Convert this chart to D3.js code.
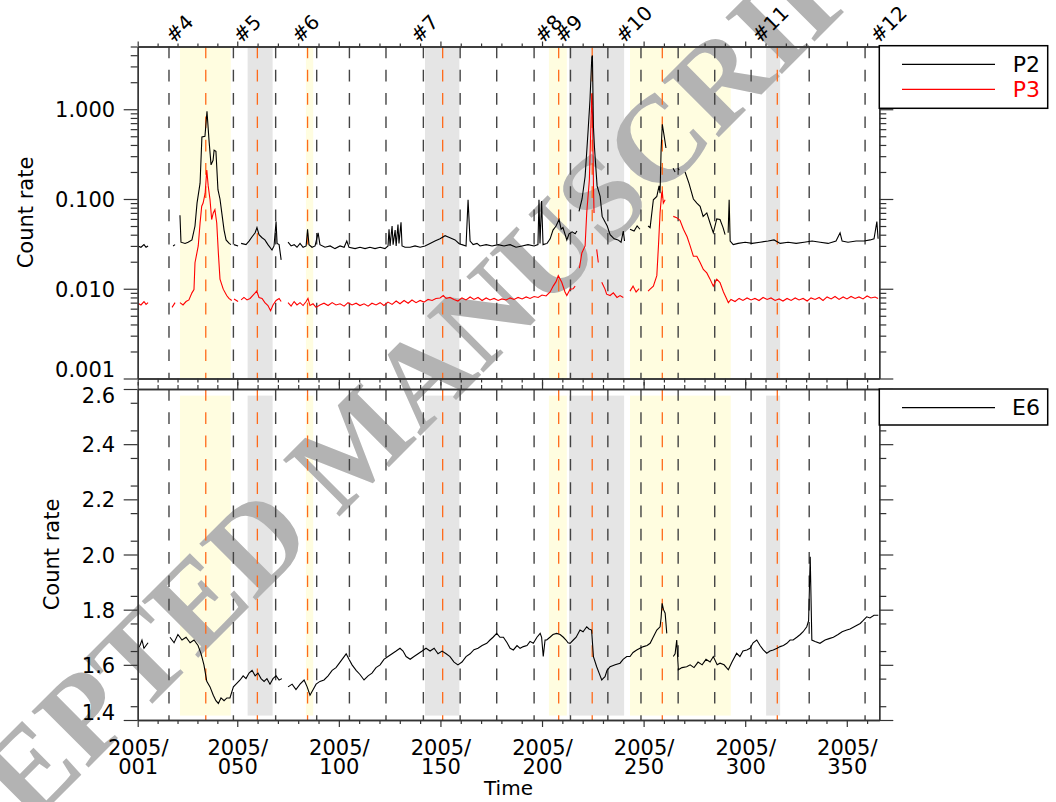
<!DOCTYPE html>
<html><head><meta charset="utf-8">
<script src="https://cdn.jsdelivr.net/npm/d3@7"></script>
<style>
body{margin:0;background:#fff}
svg{display:block}
text{font-family:"DejaVu Sans","Liberation Sans",Arial,sans-serif}
</style>
</head><body><svg id="c" width="1056" height="802"></svg>
<script>
// ---------------- DATA ----------------
const xMajorDays = [1, 50, 100, 150, 200, 250, 300, 350];
const xMajorLabels = ["001", "050", "100", "150", "200", "250", "300", "350"];
const yearLabel = "2005/";
const topMajor = [0.001, 0.01, 0.1, 1];
const topMajorLabels = ["0.001", "0.010", "0.100", "1.000"];
const botMajor = [1.4, 1.6, 1.8, 2.0, 2.2, 2.4, 2.6];
const botMajorLabels = ["1.4", "1.6", "1.8", "2.0", "2.2", "2.4", "2.6"];

const eventBlack = [16.4, 48.1, 68.9, 89.1, 105.2, 123.2, 141.6, 159.7, 177.7, 196.1, 214.0, 232.4, 248.7, 267.0, 285.0, 302.9, 331.5, 359.0];
const eventOrange = [34.5, 59.9, 84.6, 151.1, 208.2, 224.7, 259.2, 315.8];

const regionLabels = ["#4", "#5", "#6", "#7", "#8", "#9", "#10", "#11", "#12"];
const regionStart = [21.8, 55.1, 83.8, 142.4, 203.4, 213.3, 243.3, 310.3, 368.5];
const regionEnd   = [46.8, 67.4, 87.4, 159.3, 212.2, 240.4, 292.9, 317.2, 368.5];
const regionKind  = ["y", "g", "y", "g", "y", "g", "y", "g", "g"];
const botShadeRange = [1.416, 2.576];

// P2 count rate (day of 2005, value); null = data gap
const p2 = [[1.1,0.030],[2.6,0.029],[4.1,0.031],[5.1,0.029],[6.1,0.030],[6.5,null],
[18.4,0.030],[19.4,0.031],[19.8,null],
[21.8,0.066],[22.3,0.033],[24.3,0.032],[25.8,0.033],[27.7,0.035],[29.2,0.05],[30.2,0.09],[31.7,0.15],[32.6,0.49],[34.1,0.50],[35.1,0.95],[36.1,0.45],[37.1,0.24],[38.1,0.27],[38.6,0.35],[39.5,0.34],[40.5,0.127],[41.5,0.10],[42.5,0.067],[43.5,0.045],[44.5,0.035],[46.0,0.032],[46.9,0.031],[47.5,null],
[48.4,0.031],[50.4,0.030],[51.0,null],
[51.9,0.032],[54.3,0.031],[55.8,0.034],[57.3,0.038],[58.8,0.042],[59.7,0.048],[60.7,0.040],[62.2,0.037],[63.6,0.035],[65.1,0.031],[67.1,0.027],[68.1,0.030],[69.1,0.056],[69.6,0.032],[70.6,0.031],[71.6,0.021],[72.5,null],
[75.0,0.033],[76.5,0.030],[78.0,0.031],[79.4,0.029],[80.9,0.032],[82.4,0.029],[83.9,0.030],[84.6,0.046],[85.3,0.031],[86.8,0.029],[88.3,0.030],[89.8,0.042],[90.7,0.031],[93.2,0.029],[95.7,0.030],[98.1,0.028],[100.6,0.030],[102.6,0.029],[103.9,0.034],[105.0,0.029],[108.0,0.028],[110.4,0.029],[112.9,0.028],[115.3,0.029],[117.8,0.028],[120.3,0.029],[122.7,0.028],[124.2,0.030],[124.7,0.046],[125.2,0.030],[126.2,0.050],[126.7,0.031],[127.7,0.045],[128.2,0.030],[129.1,0.052],[129.6,0.032],[130.6,0.055],[131.1,0.030],[132.6,0.029],[135.1,0.029],[137.5,0.030],[140.0,0.029],[142.4,0.030],[144.9,0.032],[147.3,0.034],[149.8,0.036],[152.3,0.039],[154.7,0.037],[157.2,0.035],[159.1,0.032],[160.6,0.031],[162.6,0.030],[163.6,0.098],[164.6,0.034],[166.1,0.031],[168.0,0.032],[169.5,0.030],[172.5,0.031],[175.4,0.030],[178.4,0.031],[181.3,0.030],[184.3,0.031],[187.2,0.029],[190.2,0.030],[193.1,0.031],[196.1,0.030],[198.0,0.031],[198.5,0.098],[199.0,0.032],[199.8,0.095],[200.5,0.031],[202.5,0.032],[204.0,0.036],[205.4,0.045],[206.9,0.050],[208.4,0.059],[209.4,0.046],[210.3,0.048],[212.2,0.035],[213.3,0.041],[214.8,0.043],[216.3,0.041],[217.2,0.044],[217.7,null],
[218.2,0.073],[219.7,0.10],[221.2,0.178],[222.6,0.54],[223.6,1.26],[224.5,3.8],[224.8,3.97],[225.3,0.64],[225.8,0.38],[227.1,0.14],[228.6,0.107],[229.6,0.064],[231.1,0.055],[232.1,0.050],[233.5,0.040],[235.5,0.036],[237.4,0.035],[238.9,0.033],[240.0,0.044],[240.6,0.034],[241.5,null],
[243.3,0.046],[245.3,0.044],[246.8,0.050],[248.2,0.046],[249.5,null],
[252.2,0.050],[253.2,0.048],[254.8,0.098],[256.5,0.107],[257.6,0.14],[258.1,0.116],[258.6,0.35],[259.2,0.68],[260.2,0.49],[261.0,0.37],[262.0,null],
[264.5,0.22],[265.5,0.20],[266.0,null],
[266.9,0.22],[267.5,0.21],[268.0,null],
[270.4,0.20],[272.3,0.15],[274.5,0.10],[276.2,0.09],[277.8,0.083],[279.3,0.064],[281.1,0.07],[282.7,0.054],[284.3,0.042],[286.0,0.060],[287.6,0.059],[289.1,0.048],[290.1,0.040],[290.8,null],
[291.6,0.042],[292.1,0.098],[292.6,0.034],[294.1,0.031],[296.5,0.032],[300.0,0.033],[303.4,0.032],[307.3,0.033],[311.3,0.034],[314.2,0.035],[317.2,0.032],[321.1,0.033],[325.1,0.032],[329.0,0.033],[332.9,0.034],[336.9,0.033],[340.8,0.032],[344.7,0.034],[346.7,0.042],[347.7,0.034],[350.6,0.033],[354.6,0.034],[358.5,0.034],[361.5,0.035],[363.4,0.036],[364.8,0.056],[365.4,0.036]];

// P3 count rate
const p3 = [[1.1,0.0069],[2.6,0.0066],[4.1,0.0072],[5.1,0.0067],[6.1,0.0070],[6.5,null],
[17.9,0.0062],[19.4,0.0070],[19.8,null],
[21.8,0.0070],[23.3,0.0066],[24.8,0.0072],[26.2,0.0075],[27.7,0.0090],[28.7,0.0098],[29.2,0.0195],[30.8,0.030],[31.7,0.054],[32.5,0.083],[33.2,0.09],[34.2,0.116],[35.0,0.21],[35.7,0.14],[36.6,0.098],[37.4,0.059],[38.2,0.070],[39.0,0.076],[39.9,0.054],[40.7,0.025],[41.5,0.0128],[43.1,0.0099],[44.8,0.0084],[45.9,0.0078],[47.3,0.0074],[47.8,null],
[48.4,0.0077],[50.4,0.0072],[51.0,null],
[51.9,0.0075],[53.3,0.0080],[54.8,0.0075],[56.3,0.0078],[57.8,0.0085],[59.6,0.0094],[60.7,0.0080],[62.2,0.0078],[63.6,0.0070],[65.1,0.0065],[66.4,0.0057],[67.6,0.0066],[69.1,0.0074],[70.6,0.0078],[71.6,0.0072],[72.5,null],
[75.0,0.0070],[76.5,0.0064],[78.0,0.0072],[79.4,0.0066],[80.9,0.0070],[82.4,0.0065],[83.9,0.0072],[84.8,0.0078],[85.8,0.0065],[87.3,0.0068],[88.8,0.0062],[90.7,0.0066],[92.7,0.0069],[94.7,0.0065],[96.7,0.0070],[98.6,0.0066],[100.6,0.0068],[102.6,0.0064],[104.5,0.0070],[106.5,0.0066],[108.5,0.0069],[110.4,0.0065],[112.4,0.0068],[114.4,0.0064],[116.3,0.0069],[118.3,0.0066],[120.3,0.0070],[122.2,0.0065],[124.2,0.0071],[126.2,0.0067],[128.2,0.0073],[130.1,0.0068],[132.1,0.0074],[134.1,0.0069],[136.0,0.0075],[138.0,0.0070],[140.0,0.0074],[141.9,0.0071],[143.9,0.0076],[145.9,0.0074],[147.8,0.0078],[149.8,0.0079],[151.4,0.0084],[152.8,0.0078],[154.7,0.0080],[156.7,0.0076],[158.6,0.0073],[160.6,0.0079],[162.6,0.0075],[164.6,0.0081],[166.5,0.0076],[168.5,0.0080],[170.5,0.0074],[172.5,0.0079],[174.4,0.0075],[176.4,0.0078],[178.4,0.0074],[180.3,0.0077],[182.3,0.0075],[184.3,0.0079],[186.2,0.0076],[188.2,0.0080],[190.2,0.0077],[192.2,0.0081],[194.1,0.0078],[196.1,0.0082],[198.1,0.0080],[200.0,0.0085],[202.0,0.0083],[204.0,0.0092],[205.5,0.0107],[206.9,0.012],[208.0,0.014],[209.7,0.0118],[211.3,0.0092],[212.2,0.0084],[213.8,0.0099],[215.3,0.0100],[216.3,0.0107],[217.3,null],
[218.4,0.017],[219.6,0.025],[221.2,0.030],[222.0,0.070],[223.3,0.164],[223.9,0.5],[224.5,1.5],[224.9,0.8],[225.3,0.15],[225.6,0.07],[226.2,null],
[226.9,0.0275],[227.7,0.0196],[228.5,null],
[229.4,0.0118],[231.0,0.0099],[231.8,0.0087],[233.5,0.0084],[235.1,0.0090],[236.9,0.0080],[238.4,0.0084],[240.0,0.0080],[241.0,null],
[243.3,0.0094],[244.8,0.0107],[246.3,0.0092],[247.8,0.0100],[249.5,null],
[252.2,0.0094],[253.2,0.0099],[254.8,0.0107],[256.5,0.014],[257.3,0.030],[258.1,0.070],[258.9,0.116],[259.2,0.12],[259.7,0.090],[260.6,0.098],[262.0,null],
[264.6,0.064],[266.3,0.062],[267.9,0.058],[269.6,0.046],[271.4,0.038],[272.9,0.030],[274.5,0.023],[276.2,0.023],[277.8,0.0196],[279.4,0.0164],[281.1,0.015],[282.7,0.0128],[284.3,0.0107],[286.0,0.0128],[287.6,0.0117],[289.3,0.0092],[290.9,0.0077],[291.7,0.0070],[293.0,0.0076],[295.0,0.0072],[297.0,0.0078],[298.9,0.0074],[300.9,0.0079],[302.9,0.0075],[304.8,0.0078],[306.8,0.0074],[308.8,0.0080],[310.8,0.0076],[312.7,0.0079],[314.7,0.0074],[316.7,0.0077],[318.6,0.0073],[320.6,0.0078],[322.6,0.0074],[324.6,0.0079],[326.5,0.0075],[328.5,0.0078],[330.5,0.0073],[332.4,0.0079],[334.4,0.0076],[336.4,0.0080],[338.3,0.0074],[340.3,0.0081],[342.3,0.0077],[344.2,0.0082],[346.2,0.0076],[348.2,0.0081],[350.1,0.0077],[352.1,0.0082],[354.1,0.0078],[356.0,0.0081],[358.0,0.0077],[360.0,0.0083],[361.9,0.0079],[363.9,0.0081],[365.4,0.0078]];

// E6 count rate
const e6 = [[1.1,1.66],[2.1,1.67],[3.1,1.69],[4.1,1.66],[5.1,1.67],[6.1,1.68],[7.0,null],
[16.9,1.70],[18.9,1.68],[20.8,1.71],[22.8,1.69],[24.8,1.70],[26.8,1.68],[28.7,1.69],[30.7,1.67],[32.2,1.64],[33.6,1.60],[35.0,1.54],[36.6,1.52],[38.2,1.49],[39.5,1.47],[40.7,1.46],[42.0,1.48],[43.5,1.47],[44.9,1.48],[46.4,1.48],[48.1,1.52],[49.4,1.53],[51.4,1.545],[52.9,1.56],[54.3,1.55],[55.8,1.57],[57.3,1.58],[58.8,1.56],[60.2,1.57],[61.7,1.55],[63.2,1.54],[64.6,1.55],[66.1,1.53],[67.6,1.55],[69.1,1.56],[70.6,1.545],[72.0,1.55],[73.0,null],
[75.0,1.52],[77.0,1.53],[78.9,1.51],[80.9,1.53],[82.9,1.545],[84.4,1.52],[85.8,1.49],[87.3,1.51],[88.8,1.53],[90.7,1.54],[92.7,1.545],[94.7,1.56],[96.7,1.58],[98.6,1.59],[100.6,1.61],[102.6,1.63],[103.6,1.64],[105.0,1.62],[106.5,1.60],[108.5,1.58],[110.4,1.565],[112.4,1.545],[114.4,1.56],[116.3,1.57],[118.3,1.59],[120.3,1.60],[122.2,1.62],[124.2,1.63],[126.2,1.64],[128.2,1.65],[130.1,1.66],[131.6,1.65],[133.1,1.63],[135.1,1.62],[137.0,1.63],[139.0,1.64],[141.0,1.65],[142.9,1.66],[144.9,1.65],[146.9,1.66],[148.8,1.64],[150.8,1.65],[152.8,1.64],[154.7,1.63],[156.7,1.61],[158.6,1.60],[160.6,1.61],[162.6,1.63],[164.6,1.64],[166.5,1.655],[168.5,1.66],[170.5,1.67],[172.8,1.678],[174.4,1.69],[175.9,1.70],[177.7,1.714],[179.3,1.70],[181.0,1.70],[182.8,1.68],[184.3,1.66],[185.9,1.654],[187.7,1.67],[189.2,1.66],[190.8,1.666],[192.6,1.67],[194.1,1.685],[195.7,1.678],[197.5,1.70],[199.1,1.714],[199.8,1.70],[200.6,1.63],[201.5,1.69],[202.3,1.69],[203.9,1.70],[205.4,1.71],[207.2,1.714],[208.9,1.71],[210.5,1.70],[211.8,1.69],[212.8,1.68],[213.8,1.678],[215.4,1.69],[216.8,1.70],[218.7,1.726],[220.2,1.72],[222.0,1.738],[223.1,1.73],[224.4,1.726],[225.3,1.63],[226.9,1.593],[228.1,1.57],[229.4,1.545],[230.0,1.55],[231.0,1.557],[232.0,1.58],[233.5,1.593],[236.0,1.60],[238.4,1.606],[239.9,1.62],[241.7,1.63],[243.3,1.63],[244.8,1.645],[246.6,1.654],[248.2,1.66],[249.9,1.666],[251.7,1.67],[253.2,1.678],[254.7,1.70],[256.5,1.726],[258.1,1.738],[258.6,1.77],[259.1,1.823],[259.8,1.80],[260.6,1.787],[261.4,1.714],[262.5,null],
[264.6,1.63],[265.5,1.64],[266.3,1.69],[267.1,1.582],[268.9,1.59],[271.2,1.593],[272.9,1.60],[274.8,1.59],[276.8,1.61],[278.8,1.60],[280.7,1.62],[282.7,1.61],[284.3,1.63],[286.2,1.60],[287.6,1.606],[289.6,1.60],[291.7,1.582],[293.5,1.61],[295.8,1.642],[297.4,1.63],[298.9,1.65],[300.8,1.654],[302.4,1.66],[303.9,1.68],[305.7,1.69],[307.3,1.67],[308.9,1.654],[310.6,1.642],[312.2,1.65],[313.8,1.654],[315.7,1.66],[317.2,1.666],[318.8,1.67],[320.5,1.678],[322.1,1.69],[323.6,1.69],[325.4,1.70],[327.1,1.71],[328.5,1.72],[330.3,1.738],[331.2,1.76],[332.0,1.992],[332.8,1.69],[334.4,1.685],[336.8,1.678],[339.3,1.69],[341.3,1.695],[343.4,1.70],[345.7,1.71],[347.7,1.72],[350.0,1.726],[351.6,1.73],[354.1,1.74],[356.6,1.75],[358.0,1.76],[359.8,1.774],[361.4,1.77],[363.4,1.78],[365.5,1.78]];

const legendTop = [{name: "P2", color: "#000"}, {name: "P3", color: "#ff0000"}];
const legendBot = [{name: "E6", color: "#000"}];
const watermarkText = "ACCEPTED MANUSCRIPT";

// ---------------- LAYOUT ----------------
const svg = d3.select("#c");
const L = 137.7, R = 879.3;
const topT = 46.5, topB = 378.5, botT = 389, botB = 720;
const x = d3.scaleLinear().domain([1, 366]).range([L, R]);
const yTop = d3.scaleLog().domain([0.001, 5]).range([topB, topT]);
const yBot = d3.scaleLinear().domain([1.4, 2.6]).range([botB, botT]);
const FS = 21;
const axisCol = "#333";

svg.append("rect").attr("width", 1056).attr("height", 802).attr("fill", "#fff");
const defs = svg.append("defs");
defs.append("clipPath").attr("id", "clipTop").append("rect").attr("x", L).attr("y", topT).attr("width", R - L).attr("height", topB - topT);
defs.append("clipPath").attr("id", "clipBot").append("rect").attr("x", L).attr("y", botT).attr("width", R - L).attr("height", botB - botT);

// shading
const regions = regionStart.map((s, i) => ({s, e: regionEnd[i], k: regionKind[i], lab: regionLabels[i]}));
const fillOf = k => k === "y" ? "#fffde0" : "#e5e5e5";
svg.append("g").attr("clip-path", "url(#clipTop)").selectAll("rect").data(regions).join("rect")
  .attr("x", d => x(d.s)).attr("width", d => Math.max(0, x(d.e) - x(d.s)))
  .attr("y", topT).attr("height", topB - topT).attr("fill", d => fillOf(d.k));
svg.append("g").attr("clip-path", "url(#clipBot)").selectAll("rect").data(regions).join("rect")
  .attr("x", d => x(d.s)).attr("width", d => Math.max(0, x(d.e) - x(d.s)))
  .attr("y", yBot(botShadeRange[1])).attr("height", yBot(botShadeRange[0]) - yBot(botShadeRange[1])).attr("fill", d => fillOf(d.k));

// watermark
svg.append("text").text(watermarkText)
  .attr("transform", "translate(-158,1014) rotate(-45)")
  .attr("text-anchor", "start")
  .style("font-family", "'Liberation Serif','Times New Roman',serif")
  .style("font-weight", "bold")
  .style("font-size", "122px").attr("fill", "#b3b3b3");

// event lines
function vlines(days, color, w) {
  [[topT, topB], [botT, botB]].forEach(([a, b]) => {
    svg.append("g").selectAll("line").data(days).join("line")
      .attr("x1", d => x(d)).attr("x2", d => x(d)).attr("y1", a).attr("y2", b)
      .attr("stroke", color).attr("stroke-width", w).attr("stroke-dasharray", "11.7 11.6");
  });
}
vlines(eventBlack, "#444", 1.4);
vlines(eventOrange, "#ff6a1a", 1.3);

// data lines
const lineTop = d3.line().defined(d => d[1] != null).x(d => x(d[0])).y(d => yTop(d[1]));
const lineBot = d3.line().defined(d => d[1] != null).x(d => x(d[0])).y(d => yBot(d[1]));
const gT = svg.append("g").attr("clip-path", "url(#clipTop)");
gT.append("path").datum(p3).attr("d", lineTop).attr("fill", "none").attr("stroke", "#ff0000").attr("stroke-width", 1.1);
gT.append("path").datum(p2).attr("d", lineTop).attr("fill", "none").attr("stroke", "#000").attr("stroke-width", 1.1);
const gB = svg.append("g").attr("clip-path", "url(#clipBot)");
gB.append("path").datum(e6).attr("d", lineBot).attr("fill", "none").attr("stroke", "#000").attr("stroke-width", 1.1);

// ---------------- AXES ----------------
const xMinor = [];
for (let i = 0; i < xMajorDays.length; i++) {
  const a = xMajorDays[i], b = i + 1 < xMajorDays.length ? xMajorDays[i + 1] : 400;
  for (let k = 1; k < 5; k++) { const v = a + (b - a) * k / 5; if (v < 366) xMinor.push(v); }
}
const topMinor = [];
[0.001, 0.01, 0.1, 1].forEach(dec => { for (let m = 2; m <= 9; m++) { const v = dec * m; if (v <= 5) topMinor.push(v); } });
const botMinor = [];
for (let v = 1.45; v < 2.6; v += 0.1) botMinor.push(+v.toFixed(2));

function styleAxis(g) {
  g.attr("font-family", null).attr("font-size", null);
  g.selectAll("path.domain").attr("stroke", axisCol).attr("stroke-width", 1.3);
  g.selectAll(".tick line").attr("stroke", axisCol).attr("stroke-width", 1.2);
  g.selectAll("text").style("font-size", FS + "px").attr("fill", "#000");
}
function addAxis(axisFn, scale, transform, majors, minors, majLen, minLen, fmt) {
  const gMin = svg.append("g").attr("transform", transform)
    .call(axisFn(scale).tickValues(minors).tickSize(minLen).tickSizeOuter(0).tickFormat(""));
  styleAxis(gMin);
  gMin.selectAll(".tick text").remove();
  const ax = axisFn(scale).tickValues(majors).tickSize(majLen).tickSizeOuter(0);
  ax.tickFormat(fmt || "");
  const g = svg.append("g").attr("transform", transform).call(ax);
  styleAxis(g);
  if (!fmt) g.selectAll(".tick text").remove();
  return g;
}
// horizontal axes
addAxis(d3.axisTop, x, `translate(0,${topT})`, xMajorDays, xMinor, 5, 3);
addAxis(d3.axisBottom, x, `translate(0,${topB})`, xMajorDays, xMinor, 7, 4);
addAxis(d3.axisTop, x, `translate(0,${botT})`, xMajorDays, xMinor, 7, 4);
const gx = addAxis(d3.axisBottom, x, `translate(0,${botB})`, xMajorDays, xMinor, 7, 4, (d, i) => xMajorLabels[i]);
gx.selectAll(".tick text").each(function(d, i) {
  const t = d3.select(this);
  t.text(null).attr("y", 0).attr("dy", null);
  t.append("tspan").attr("x", 0).attr("y", 35).text(yearLabel);
  t.append("tspan").attr("x", 0).attr("y", 53.5).text(xMajorLabels[i]);
});

// vertical axes
const gyT = addAxis(d3.axisLeft, yTop, `translate(${L},0)`, topMajor, topMinor, 14, 7, (d, i) => topMajorLabels[i]);
addAxis(d3.axisRight, yTop, `translate(${R},0)`, topMajor, topMinor, 14, 7);
const gyB = addAxis(d3.axisLeft, yBot, `translate(${L},0)`, botMajor, botMinor, 14, 7, (d, i) => botMajorLabels[i]);
addAxis(d3.axisRight, yBot, `translate(${R},0)`, botMajor, botMinor, 14, 7);
gyT.selectAll(".tick text").attr("x", -22.5).attr("dy", (d) => d === 0.001 ? "-0.08em" : "0.36em");
gyB.selectAll(".tick text").attr("x", -22.5).attr("dy", (d) => d === 2.6 ? "0.66em" : (d === 1.4 ? "-0.04em" : "0.36em"));

// event labels on top axis
svg.append("g").selectAll("text").data(regions).join("text")
  .attr("transform", d => `translate(${x(d.s) - 6},44) rotate(-45)`)
  .style("font-size", "20px").attr("fill", "#000").text(d => d.lab);

// axis titles
svg.append("text").attr("transform", `translate(33,${(topT + topB) / 2}) rotate(-90)`)
  .attr("text-anchor", "middle").style("font-size", FS + "px").text("Count rate");
svg.append("text").attr("transform", `translate(59,${(botT + botB) / 2}) rotate(-90)`)
  .attr("text-anchor", "middle").style("font-size", FS + "px").text("Count rate");
svg.append("text").attr("x", 508.5).attr("y", 795).attr("text-anchor", "middle")
  .style("font-size", "20px").text("Time");

// ---------------- LEGENDS ----------------
function legend(items, top, h) {
  const g = svg.append("g");
  g.append("rect").attr("x", R).attr("y", top).attr("width", 1047.7 - R).attr("height", h)
    .attr("fill", "#fff").attr("stroke", "#000").attr("stroke-width", 1.5);
  items.forEach((it, i) => {
    const yy = top + 18.6 + i * 25;
    g.append("line").attr("x1", 902).attr("x2", 995).attr("y1", yy).attr("y2", yy)
      .attr("stroke", it.color).attr("stroke-width", 1.2);
    g.append("text").attr("x", 1040).attr("y", yy + 7.5).attr("text-anchor", "end")
      .style("font-size", "22px").attr("fill", it.color).text(it.name);
  });
}
legend(legendTop, 45.7, 62.6);
legend(legendBot, 389, 36);
</script>
</body></html>
